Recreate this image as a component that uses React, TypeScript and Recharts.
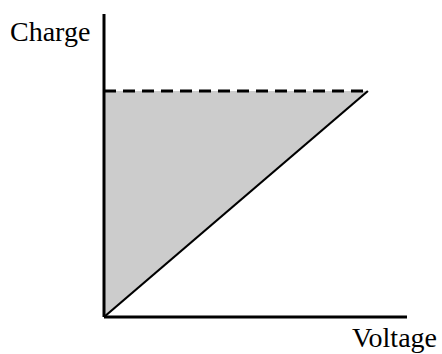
import { ComposedChart, Area, Line, XAxis, YAxis, Label } from "recharts";

// Voltage (x) and charge (y) in arbitrary units
const voltage = [0, 8.71];
const charge = [0, 7.46];
const maxCharge = [7.46, 7.46];

const data = voltage.map((v, i) => ({
  v,
  charge: charge[i],
  top: maxCharge[i],
  band: [charge[i], maxCharge[i]],
}));

const font = "'Liberation Serif', 'Times New Roman', serif";

export default function App() {
  return (
    <div style={{ position: "absolute", left: 0, top: 0 }}>
      <ComposedChart width={442} height={354} data={data} margin={{ top: 14, right: 35, left: 4, bottom: 0 }}>
        <XAxis
          dataKey="v" type="number" domain={[0, 10]} tick={false} tickLine={false}
          height={37} axisLine={{ stroke: "#000", strokeWidth: 3 }}
        >
          <Label
            content={({ viewBox }: any) => (
              <text x={viewBox.x + viewBox.width + 30} y={viewBox.y + 30} textAnchor="end"
                fontFamily={font} fontSize={28} fill="#000">Voltage</text>
            )}
          />
        </XAxis>
        <YAxis
          type="number" domain={[0, 10]} tick={false} tickLine={false}
          width={100} axisLine={{ stroke: "#000", strokeWidth: 3 }}
        >
          <Label
            content={({ viewBox }: any) => (
              <text x={10} y={viewBox.y + 27} textAnchor="start"
                fontFamily={font} fontSize={28} fill="#000">Charge</text>
            )}
          />
        </YAxis>
        <Area dataKey="band" type="linear" stroke="none" fill="#cccccc" fillOpacity={1} isAnimationActive={false} />
        <Line dataKey="charge" type="linear" stroke="#000" strokeWidth={2.2} dot={false} isAnimationActive={false} />
        <Line dataKey="top" type="linear" stroke="#000" strokeWidth={3} strokeDasharray="12 7" dot={false} isAnimationActive={false} />
      </ComposedChart>
    </div>
  );
}
